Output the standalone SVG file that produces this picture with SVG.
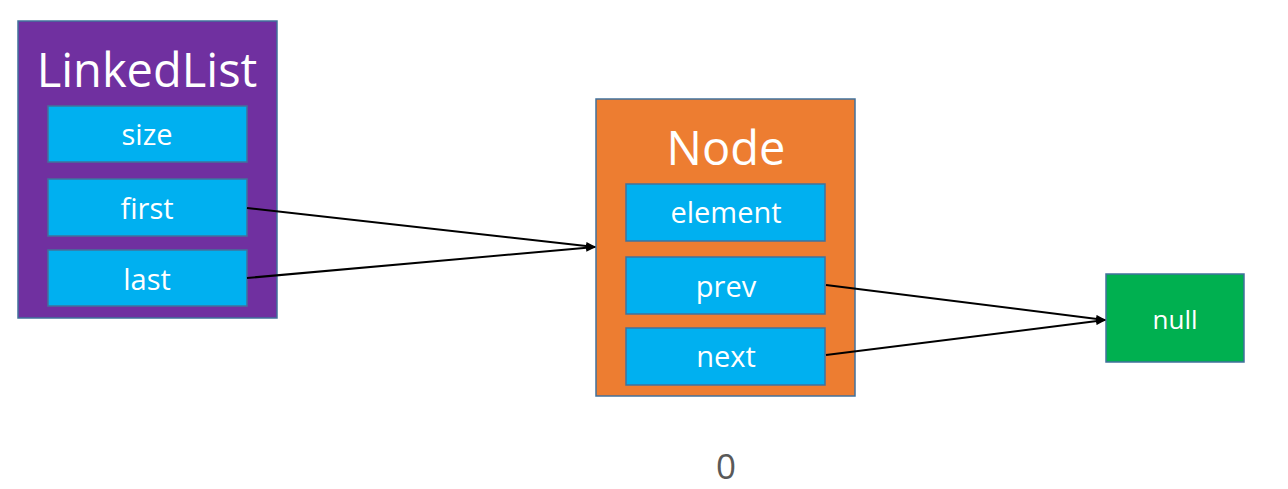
<svg xmlns="http://www.w3.org/2000/svg" width="1288" height="489" viewBox="0 0 1288 489">
  <defs>
    <marker id="arrow" markerWidth="10" markerHeight="8" refX="9" refY="4" orient="auto" markerUnits="userSpaceOnUse">
      <path d="M0,0 L10,4 L0,8 Z" fill="#000"/>
    </marker>
    <style>
      .box { stroke: #41719C; stroke-width: 1.5; }
      .field { fill: #00B0F0; stroke: #41719C; stroke-width: 1.5; }
      .title { font-family: "Open Sans", "Liberation Sans", sans-serif; font-size: 47px; fill: #fff; text-anchor: middle; }
      .label { font-family: "Open Sans", "Liberation Sans", sans-serif; font-size: 29px; fill: #fff; text-anchor: middle; }
      .link { stroke: #000; stroke-width: 2; fill: none; marker-end: url(#arrow); }
    </style>
  </defs>
  <rect width="1288" height="489" fill="#fff"/>

  <!-- list header object -->
  <g id="linkedlist">
    <rect class="box" x="18" y="21" width="259" height="297" fill="#7030A0"/>
    <text class="title" x="147" y="87">LinkedList</text>
    <rect class="field" x="48" y="106" width="199" height="56"/>
    <text class="label" x="147" y="145">size</text>
    <rect class="field" x="48" y="179" width="199" height="57"/>
    <text class="label" x="147" y="219">first</text>
    <rect class="field" x="48" y="250" width="199" height="56"/>
    <text class="label" x="147" y="290">last</text>
  </g>

  <!-- single node -->
  <g id="node">
    <rect class="box" x="596" y="99" width="259" height="297" fill="#ED7D31"/>
    <text class="title" x="726" y="165">Node</text>
    <rect class="field" x="626" y="184" width="199" height="57"/>
    <text class="label" x="726" y="223">element</text>
    <rect class="field" x="626" y="257" width="199" height="57"/>
    <text class="label" x="726" y="297">prev</text>
    <rect class="field" x="626" y="328" width="199" height="57"/>
    <text class="label" x="726" y="367">next</text>
  </g>

  <!-- null target -->
  <g id="null">
    <rect class="box" x="1106" y="274" width="138" height="88" fill="#00B050"/>
    <text class="label" x="1175" y="329" style="font-size:26px">null</text>
  </g>

  <g id="size-value">
    <text x="726" y="479" font-family="Open Sans, Liberation Sans, sans-serif" font-size="35" fill="#595959" text-anchor="middle">0</text>
  </g>

  <!-- pointers -->
  <g id="connectors">
    <line class="link" x1="247" y1="208" x2="595" y2="247"/>
    <line class="link" x1="247" y1="278" x2="595" y2="247"/>
    <line class="link" x1="826" y1="285" x2="1105" y2="320"/>
    <line class="link" x1="826" y1="355" x2="1105" y2="320"/>
  </g>
</svg>
